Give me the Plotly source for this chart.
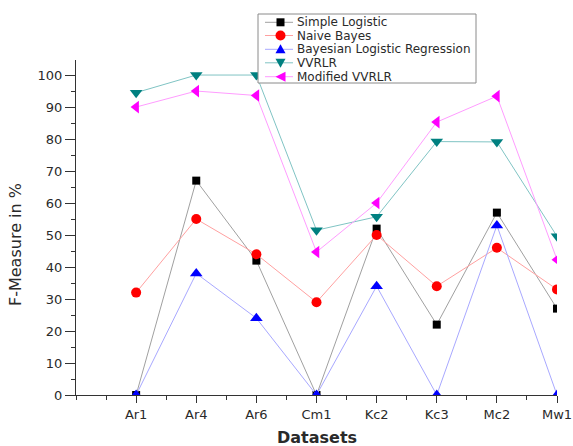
import plotly.graph_objects as go

categories = ["Ar1", "Ar4", "Ar6", "Cm1", "Kc2", "Kc3", "Mc2", "Mw1"]
simple_logistic = [0, 67, 42, 0, 52, 22, 57, 27]
naive_bayes = [32, 55, 44, 29, 50, 34, 46, 33]
bayesian_lr = [0, 38, 24, 0, 34, 0, 53, 0]
vvrlr = [94.5, 100, 100, 51.5, 55.7, 79.2, 79.1, 49.6]
modified_vvrlr = [90, 95, 93.6, 44.7, 60, 85.3, 93.4, 42.3]
series_names = ["Simple Logistic", "Naive Bayes", "Bayesian Logistic Regression",
                "VVRLR", "Modified VVRLR"]
y_ticks = list(range(0, 101, 10))

xpos = list(range(1, len(categories) + 1))

styles = [
    ("#a0a0a0", "black", "square", 8),
    ("#ffa0a0", "red", "circle", 10),
    ("#a8a8ff", "blue", "triangle-up", 11),
    ("#80c4c4", "#008080", "triangle-down", 11),
    ("#ff9cff", "magenta", "triangle-left", 11),
]
all_vals = [simple_logistic, naive_bayes, bayesian_lr, vvrlr, modified_vvrlr]

FONT = "DejaVu Sans, Arial, sans-serif"
TXT = "#2a2a2a"

W, H = 573, 446
# plot area in window pixels
X0, X1, Y0, Y1 = 76, 557, 60, 395
L, R, T, B = X0, W - X1, Y0, H - Y1
PW, PH = X1 - X0, Y1 - Y0

def px(x):
    return (x - X0) / PW

def py(y):
    return (Y1 - y) / PH

fig = go.Figure()
for name, vals, (lc, mc, sym, sz) in zip(series_names, all_vals, styles):
    fig.add_trace(go.Scatter(
        x=xpos, y=vals, name=name, mode="lines+markers",
        line=dict(color=lc, width=1),
        marker=dict(color=mc, symbol=sym, size=sz, line=dict(width=0)),
        showlegend=False,
    ))

# custom legend (compact rows like the reference)
shapes = [dict(type="rect", xref="paper", yref="paper",
               x0=px(258), x1=px(476), y0=py(83), y1=py(14),
               fillcolor="white", line=dict(color="#8a8a8a", width=1), layer="above")]
annotations = []
rows = [22.3, 35.5, 49.3, 62.8, 76.7]
tri = {
    "triangle-up": "M -5 -4 L 5 -4 L 0 5 Z",
    "triangle-down": "M -5 4 L 5 4 L 0 -5 Z",
    "triangle-left": "M 5 -5 L 5 5 L -5 0 Z",
}
for name, (lc, mc, sym, sz), ry in zip(series_names, styles, rows):
    shapes.append(dict(type="line", xref="paper", yref="paper",
                       x0=px(265), x1=px(293), y0=py(ry), y1=py(ry),
                       line=dict(color=lc, width=1), layer="above"))
    cx, cy = px(280.5), py(ry)
    common = dict(xref="paper", yref="paper", xsizemode="pixel", ysizemode="pixel",
                  xanchor=cx, yanchor=cy, fillcolor=mc, line=dict(width=0), layer="above")
    if sym == "square":
        shapes.append(dict(type="rect", x0=-4, x1=4, y0=-4, y1=4, **common))
    elif sym == "circle":
        shapes.append(dict(type="circle", x0=-5, x1=5, y0=-5, y1=5, **common))
    else:
        shapes.append(dict(type="path", path=tri[sym], **common))
    annotations.append(dict(xref="paper", yref="paper", x=px(295), y=py(ry),
                            xanchor="left", yanchor="middle", showarrow=False,
                            text=name, font=dict(family=FONT, size=12, color=TXT)))

# axis titles
annotations.append(dict(xref="paper", yref="paper", x=px(15), y=py(245),
                        xanchor="center", yanchor="middle", showarrow=False,
                        textangle=-90, text="F-Measure in %", borderpad=0,
                        font=dict(family=FONT, size=16, color=TXT)))
annotations.append(dict(xref="paper", yref="paper", x=0.5, y=py(437),
                        xanchor="center", yanchor="middle", showarrow=False,
                        text="<b>Datasets</b>", borderpad=0,
                        font=dict(family=FONT, size=16, color=TXT)))

fig.update_layout(
    width=W, height=H,
    margin=dict(l=L, r=R, t=T, b=B, autoexpand=False),
    plot_bgcolor="white", paper_bgcolor="white",
    font=dict(family=FONT, color=TXT),
    showlegend=False,
    shapes=shapes, annotations=annotations,
)
fig.update_xaxes(
    range=[0, 8], tickvals=xpos, ticktext=categories, automargin=False,
    ticklabeloverflow="allow",
    showline=True, linecolor="#333", linewidth=1,
    ticks="outside", ticklen=7, tickcolor="#333",
    minor=dict(ticks="outside", ticklen=4, tickcolor="#333", dtick=0.5, tick0=0),
    showgrid=False, zeroline=False,
    tickfont=dict(family=FONT, size=13, color=TXT),
)
fig.update_yaxes(
    range=[0, 104.7], tickvals=y_ticks, automargin=False,
    showline=True, linecolor="#333", linewidth=1,
    ticks="outside", ticklen=10, tickcolor="#333",
    minor=dict(ticks="outside", ticklen=4, tickcolor="#333", dtick=5, tick0=0),
    showgrid=False, zeroline=False,
    tickfont=dict(family=FONT, size=13, color=TXT),
)

fig.write_html("out.html",
               config={"displayModeBar": False},
               post_script="document.body.style.margin='0';document.body.style.overflow='hidden';")
